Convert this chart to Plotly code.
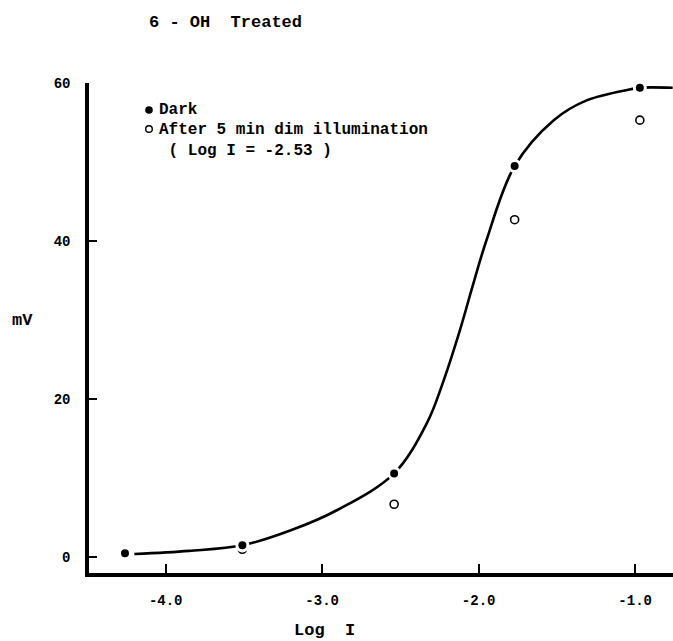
import plotly.graph_objects as go

# Data
log_i = [-4.26, -3.51, -2.54, -1.77, -0.97]
dark_mv = [0.5, 1.5, 10.6, 49.5, 59.4]
light_mv = [0.3, 1.0, 6.7, 42.7, 55.3]

# Hand-drawn fitted curve
curve_log_i = [-4.20, -3.85, -3.51, -3.20, -2.90, -2.54, -2.33, -2.23, -2.12,
               -2.04, -1.95, -1.77, -1.52, -1.31, -1.03, -0.97, -0.76]
curve_mv = [0.4, 0.8, 1.5, 3.4, 6.0, 10.6, 17.0, 22.0, 28.7,
            34.2, 40.1, 49.5, 55.3, 57.8, 59.2, 59.4, 59.4]

x_ticks = [-4.0, -3.0, -2.0, -1.0]
x_tick_text = ["-4.0", "-3.0", "-2.0", "-1.0"]
y_ticks = [0, 20, 40, 60]
y_tick_text = ["0", "20", "40", "60"]

dark_label = "Dark"
light_label_1 = "After 5 min dim illumination"
light_label_2 = "( Log I = -2.53 )"

FONT = "Liberation Mono, DejaVu Sans Mono, monospace"
NB = "\u00a0"


def nb(s):
    return s.replace(" ", NB)


# plot area in pixels
L, T, W, H = 89, 83, 584, 490


def px(xp):
    return (xp - L) / W


def py(yp):
    return (T + H - yp) / H


fig = go.Figure()

fig.add_trace(go.Scatter(
    x=curve_log_i, y=curve_mv, mode="lines",
    line=dict(color="black", width=2.6, shape="spline", smoothing=1.0),
    showlegend=False, hoverinfo="skip",
))

fig.add_trace(go.Scatter(
    x=log_i, y=light_mv, mode="markers", name="After 5 min dim illumination (Log I = -2.53)",
    marker=dict(symbol="circle-open", size=8, color="black", line=dict(width=1.6, color="black")),
    showlegend=False,
))

fig.add_trace(go.Scatter(
    x=log_i, y=dark_mv, mode="markers", name="Dark",
    marker=dict(symbol="circle", size=11, color="black", line=dict(width=3, color="white")),
    showlegend=False,
))

text_font = dict(family=FONT, size=16, color="black", weight="bold")

annotations = [
    dict(text=nb("6 - OH  Treated"), x=px(147), y=py(22), xanchor="left", yanchor="middle",
         font=dict(family=FONT, size=17, color="black", weight="bold")),
    dict(text="mV", x=px(22), y=py(320), xanchor="center", yanchor="middle",
         font=dict(family=FONT, size=17, color="black", weight="bold")),
    dict(text=nb("Log  I"), x=px(292), y=py(630), xanchor="left", yanchor="middle",
         font=dict(family=FONT, size=17, color="black", weight="bold")),
    dict(text=nb(dark_label), x=px(157), y=py(110), xanchor="left", yanchor="middle", font=text_font),
    dict(text=nb(light_label_1) + "<br>" + NB + nb(light_label_2),
         x=px(157), y=py(128 - 9), xanchor="left", yanchor="top", align="left", font=text_font),
]
for a in annotations:
    a.update(xref="paper", yref="paper", showarrow=False)

shapes = [
    dict(type="circle", xref="paper", yref="paper", xsizemode="pixel", ysizemode="pixel",
         xanchor=px(149), yanchor=py(110), x0=-3.8, x1=3.8, y0=-3.8, y1=3.8,
         fillcolor="black", line=dict(color="black", width=0)),
    dict(type="circle", xref="paper", yref="paper", xsizemode="pixel", ysizemode="pixel",
         xanchor=px(149), yanchor=py(129), x0=-3.3, x1=3.3, y0=-3.3, y1=3.3,
         fillcolor="white", line=dict(color="black", width=1.4)),
]

tick_font = dict(family=FONT, size=14, color="black", weight="bold")

fig.update_layout(
    width=673, height=641,
    margin=dict(l=L, r=0, t=T, b=641 - T - H),
    paper_bgcolor="white", plot_bgcolor="white",
    font=dict(family=FONT, size=14, color="black"),
    showlegend=False,
    xaxis=dict(
        range=[-4.49, -0.758], showgrid=False, zeroline=False,
        showline=True, linecolor="black", linewidth=3.5,
        ticks="inside", ticklen=9, tickwidth=2, tickcolor="black",
        tickvals=x_ticks, ticktext=x_tick_text, ticklabelstandoff=11,
        tickfont=tick_font,
    ),
    yaxis=dict(
        range=[-2.0, 60], showgrid=False, zeroline=False,
        showline=True, linecolor="black", linewidth=3.5,
        ticks="inside", ticklen=8, tickwidth=2, tickcolor="black",
        tickvals=y_ticks, ticktext=y_tick_text, ticklabelstandoff=12,
        tickfont=tick_font,
    ),
    annotations=annotations,
    shapes=shapes,
)

fig.write_html("out.html")
